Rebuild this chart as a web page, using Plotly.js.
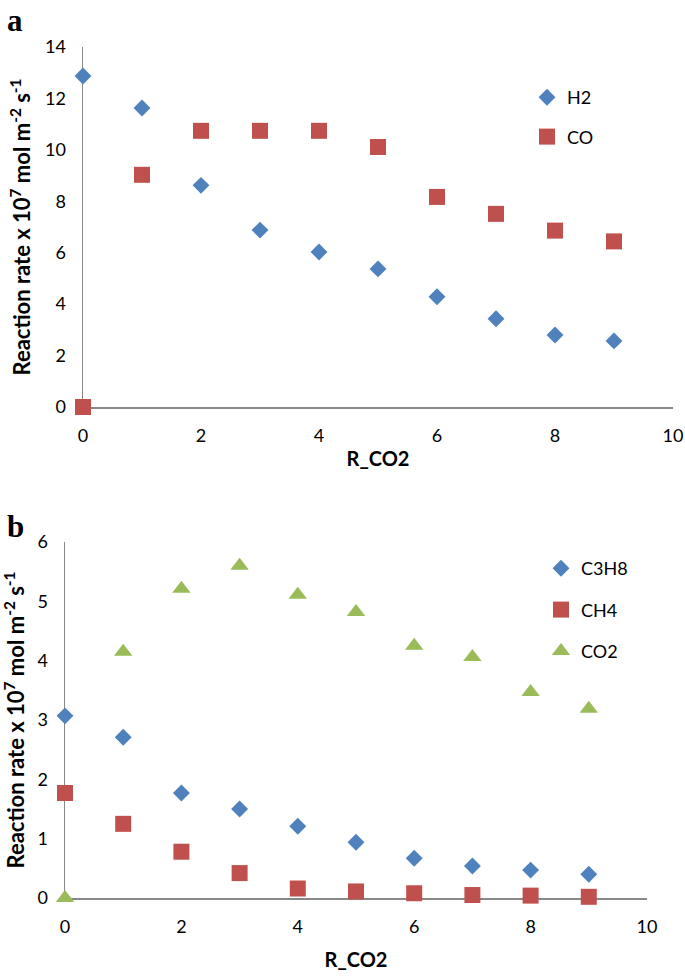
<!DOCTYPE html>
<html>
<head>
<meta charset="utf-8">
<script src="https://cdn.plot.ly/plotly-3.0.1.min.js"></script>
<style>html,body{margin:0;padding:0;background:#fff;}#chart{width:685px;height:976px;}</style>
</head>
<body>
<div id="chart"></div>
<script>
// Panel a
const xA = [0, 1, 2, 3, 4, 5, 6, 7, 8, 9];
const h2 = [12.87, 11.63, 8.62, 6.88, 6.03, 5.37, 4.29, 3.43, 2.80, 2.57];
const co = [0, 9.03, 10.74, 10.74, 10.74, 10.11, 8.17, 7.51, 6.86, 6.44];
// Panel b
const xB = [0, 1, 2, 3, 4, 5, 6, 7, 8, 9];
const c3h8 = [3.07, 2.71, 1.77, 1.50, 1.21, 0.94, 0.67, 0.54, 0.47, 0.40];
const ch4 = [1.77, 1.25, 0.78, 0.42, 0.16, 0.11, 0.08, 0.05, 0.04, 0.02];
const co2 = [0, 4.15, 5.21, 5.60, 5.11, 4.82, 4.25, 4.06, 3.47, 3.19];

const blue = '#4F81BD', red = '#C0504D', green = '#9BBB59';
const W = 685, H = 976;
const font = 'Lato, "Open Sans", sans-serif';

function mk(x, y, name, sym, size, color, xa, ya, leg) {
  return {x: x, y: y, name: name, type: 'scatter', mode: 'markers',
    xaxis: xa, yaxis: ya, legend: leg, cliponaxis: false,
    marker: {symbol: sym, size: size, color: color, line: {width: 0}}};
}

const traces = [
  mk(xA, h2, 'H2', 'diamond', 13, blue, 'x', 'y', 'legend'),
  mk(xA, co, 'CO', 'square', 16, red, 'x', 'y', 'legend'),
  mk(xB, c3h8, 'C3H8', 'diamond', 13, blue, 'x2', 'y2', 'legend2'),
  mk(xB, ch4, 'CH4', 'square', 16, red, 'x2', 'y2', 'legend2'),
  mk(xB, co2, 'CO2', 'triangle-up', 16, green, 'x2', 'y2', 'legend2')
];
traces.forEach((t, i) => t.legendgroup = 'g' + i);

const axBase = {
  showline: true, linecolor: '#888888', linewidth: 1.5, showgrid: false, zeroline: false,
  ticks: 'outside', ticklen: 0, tickcolor: 'rgba(0,0,0,0)', layer: 'below traces',
  tickfont: {family: font, size: 18, color: '#000'}, fixedrange: true
};
const ytitle = 'Reaction rate x 10<sup>7</sup> mol m<sup>-2</sup> s<sup>-1</sup>';
const titleFont = {family: font, size: 22, color: '#000', weight: 'bold'};
const xtitleFont = {family: font, size: 20, color: '#000', weight: 'bold'};

const layout = {
  width: W, height: H, margin: {l: 0, r: 0, t: 0, b: 0},
  paper_bgcolor: '#fff', plot_bgcolor: '#fff', showlegend: true,
  xaxis: Object.assign({}, axBase, {domain: [83 / W, 673 / W], range: [0, 10], dtick: 2, anchor: 'y',
    ticklabelstandoff: 12, title: {text: '<b>R_CO2</b>', font: xtitleFont, standoff: 7}}),
  yaxis: Object.assign({}, axBase, {domain: [1 - 407 / H, 1 - 47 / H], range: [0, 14], dtick: 2, anchor: 'x',
    ticklabelstandoff: 12, title: {text: '<b>' + ytitle + '</b>', font: titleFont, standoff: 8}}),
  xaxis2: Object.assign({}, axBase, {domain: [65 / W, 647 / W], range: [0, 10], dtick: 2, anchor: 'y2',
    ticklabelstandoff: 12, title: {text: '<b>R_CO2</b>', font: xtitleFont, standoff: 17}}),
  yaxis2: Object.assign({}, axBase, {domain: [1 - 898 / H, 1 - 542 / H], range: [0, 6], dtick: 1, anchor: 'x2',
    ticklabelstandoff: 12, title: {text: '<b>' + ytitle + '</b>', font: titleFont, standoff: 8}}),
  legend: {x: 527 / W, y: 1 - 79 / H, xanchor: 'left', yanchor: 'top', bgcolor: 'rgba(0,0,0,0)',
    font: {family: font, size: 18, color: '#000'}, tracegroupgap: 13, itemsizing: 'trace'},
  legend2: {x: 541 / W, y: 1 - 550 / H, xanchor: 'left', yanchor: 'top', bgcolor: 'rgba(0,0,0,0)',
    font: {family: font, size: 18, color: '#000'}, tracegroupgap: 15, itemsizing: 'trace'},
  annotations: [
    {text: '<b>a</b>', x: 5 / W, y: 1 - 21 / H, xref: 'paper', yref: 'paper', xanchor: 'left', yanchor: 'middle',
      showarrow: false, font: {family: '"Liberation Serif", "DejaVu Serif", serif', size: 31, color: '#000'}},
    {text: '<b>b</b>', x: 5 / W, y: 1 - 526 / H, xref: 'paper', yref: 'paper', xanchor: 'left', yanchor: 'middle',
      showarrow: false, font: {family: '"Liberation Serif", "DejaVu Serif", serif', size: 31, color: '#000'}}
  ]
};

Plotly.newPlot('chart', traces, layout, {displayModeBar: false, staticPlot: true});
</script>
</body>
</html>
